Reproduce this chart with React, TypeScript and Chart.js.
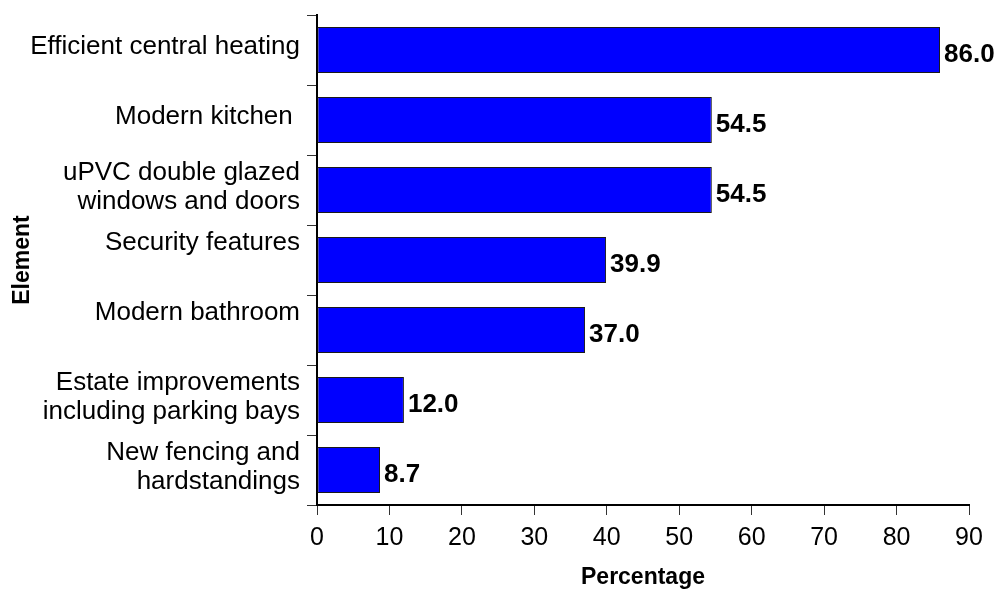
import React, { useEffect, useRef } from "react";
import { Chart, registerables } from "chart.js";

Chart.register(...registerables);

const categories: (string | string[])[] = [
  "Efficient central heating",
  "Modern kitchen ",
  ["uPVC double glazed", "windows and doors"],
  ["Security features", ""],
  ["Modern bathroom", ""],
  ["Estate improvements", "including parking bays"],
  ["New fencing and", "hardstandings"],
];
const percentages: number[] = [86.0, 54.5, 54.5, 39.9, 37.0, 12.0, 8.7];
const xTickValues: number[] = [0, 10, 20, 30, 40, 50, 60, 70, 80, 90];
const xTitle = "Percentage";
const yTitle = "Element";

const FONT = "'Liberation Sans', Arial, Helvetica, sans-serif";

const valueLabelPlugin = {
  id: "valueLabels",
  afterDatasetsDraw(chart: any) {
    const ctx = chart.ctx;
    const meta = chart.getDatasetMeta(0);
    ctx.save();
    ctx.font = `bold 26px ${FONT}`;
    ctx.fillStyle = "#000";
    ctx.textAlign = "left";
    ctx.textBaseline = "middle";
    meta.data.forEach((bar: any, i: number) => {
      const v = percentages[i];
      ctx.fillText(v.toFixed(1), bar.x + 4, bar.y + 5);
    });
    ctx.restore();
  },
};

export default function App() {
  const canvasRef = useRef<HTMLCanvasElement | null>(null);

  useEffect(() => {
    document.body.style.margin = "0";
    const canvas = canvasRef.current;
    if (!canvas) return;
    const chart = new Chart(canvas, {
      type: "bar",
      data: {
        labels: categories as any,
        datasets: [
          {
            data: percentages,
            backgroundColor: "#0000FF",
            borderColor: "#1a1a1a",
            borderWidth: 1,
            borderSkipped: false,
            barPercentage: 0.66,
            categoryPercentage: 1,
          },
        ],
      },
      options: {
        indexAxis: "y",
        responsive: false,
        animation: false,
        devicePixelRatio: 1,
        layout: { padding: { top: 15, right: 29, left: 0, bottom: 0 } },
        plugins: {
          legend: { display: false },
          tooltip: { enabled: false },
        },
        scales: {
          x: {
            type: "linear",
            min: 0,
            max: 90,
            afterBuildTicks(scale: any) {
              scale.ticks = xTickValues.map((v) => ({ value: v }));
            },
            afterFit(scale: any) {
              scale.height = 84;
              scale.paddingLeft = 0;
              scale.paddingRight = 0;
            },
            border: { display: true, color: "#000", width: 2 },
            grid: {
              drawOnChartArea: false,
              drawTicks: true,
              tickLength: 10,
              color: "#333",
              lineWidth: 1,
            },
            ticks: {
              color: "#000",
              padding: 8,
              font: { family: FONT, size: 25 },
              maxRotation: 0,
            },
            title: {
              display: true,
              text: xTitle,
              color: "#000",
              font: { family: FONT, size: 23, weight: "bold", lineHeight: 1 },
              padding: { top: 0, bottom: 0 },
            },
          },
          y: {
            type: "category",
            afterFit(scale: any) {
              scale.width = 317;
              scale.paddingTop = 0;
              scale.paddingBottom = 0;
            },
            border: { display: true, color: "#000", width: 2 },
            grid: {
              offset: true,
              drawOnChartArea: false,
              drawTicks: true,
              tickLength: 10,
              color: "#333",
              lineWidth: 1,
            },
            ticks: {
              color: "#000",
              padding: 7,
              labelOffset: -3,
              font: { family: FONT, size: 26, lineHeight: 1.12 },
              autoSkip: false,
            },
            title: {
              display: true,
              text: yTitle,
              color: "#000",
              font: { family: FONT, size: 23, weight: "bold", lineHeight: 1 },
              padding: { top: 11, bottom: 0 },
            },
          },
        },
      },
      plugins: [valueLabelPlugin],
    } as any);
    return () => chart.destroy();
  }, []);

  return (
    <div style={{ width: 998, height: 589, background: "#fff" }}>
      <canvas ref={canvasRef} width={998} height={589} style={{ display: "block", width: 998, height: 589 }} />
    </div>
  );
}
